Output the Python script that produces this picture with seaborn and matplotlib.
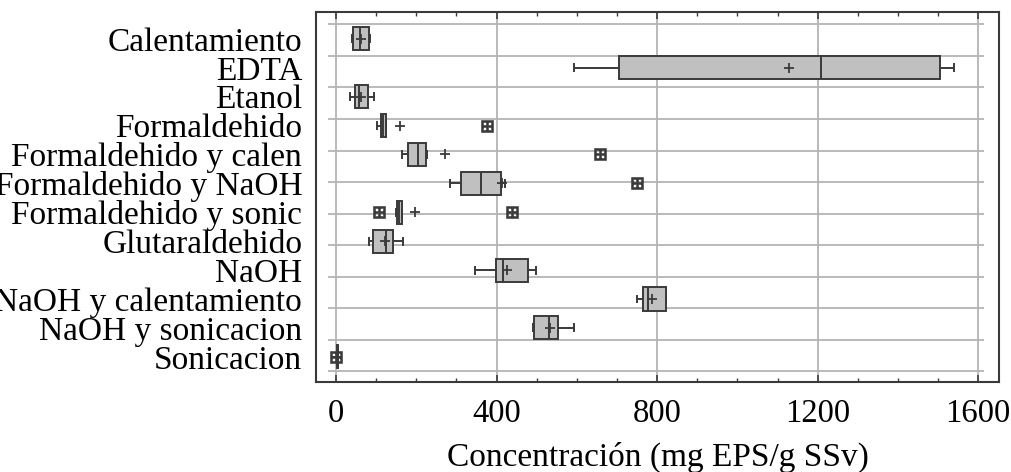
import numpy as np
import pandas as pd
import matplotlib
matplotlib.use('Agg')
import matplotlib.pyplot as plt
import seaborn as sns
from matplotlib.ticker import MultipleLocator

plt.rcParams['font.family'] = ['Liberation Serif', 'DejaVu Serif']
plt.rcParams['mathtext.fontset'] = 'dejavusans'

# orden de los tratamientos en el eje
tratamientos = ['Calentamiento', 'EDTA', 'Etanol', 'Formaldehido',
                'Formaldehido y calen', 'Formaldehido y NaOH',
                'Formaldehido y sonic', 'Glutaraldehido', 'NaOH',
                'NaOH y calentamiento', 'NaOH y sonicacion', 'Sonicacion']

calentamiento = [40, 41, 59, 82, 85]
edta = [594, 700, 705, 1000, 1208, 1380, 1504, 1522, 1539]
etanol = [35, 46, 56, 80, 95]
formaldehido = [101, 110, 113, 123, 124, 377]
formaldehido_calen = [164, 175, 195, 215, 226, 657]
formaldehido_naoh = [284, 300, 340, 380, 420, 750]
formaldehido_sonic = [106, 150, 157, 158, 165, 438]
glutaraldehido = [81, 91, 124, 142, 167]
naoh = [346, 398, 416, 478, 497]
naoh_calen = [751, 765, 776, 822, 823]
naoh_sonic = [491, 492, 531, 552, 593]
sonicacion = [0.5, 3, 3.5, 4, 4.5, 5]

valores = [calentamiento, edta, etanol, formaldehido, formaldehido_calen,
           formaldehido_naoh, formaldehido_sonic, glutaraldehido, naoh,
           naoh_calen, naoh_sonic, sonicacion]

df = pd.DataFrame({
    'tratamiento': np.repeat(tratamientos, [len(v) for v in valores]),
    'conc': np.concatenate(valores),
})

fig = plt.figure(figsize=(10.12, 4.72), dpi=100)
ax = fig.add_axes([0.3123, 0.1907, 0.6749, 0.7839])

edge = '#3a3a3a'
ax.hlines(np.linspace(-0.5, 11.5, 12), -20, 1614, color='#b4b4b4', lw=1.3, zorder=0)

sns.boxplot(data=df, x='conc', y='tratamiento', order=tratamientos, orient='h',
            width=0.8, color='#c0c0c0', linecolor=edge, linewidth=1.4,
            showmeans=True, capwidths=0.24,
            meanprops=dict(marker='+', markeredgecolor=edge, markersize=7,
                           markeredgewidth=1.3),
            flierprops=dict(marker=r'$\boxplus$', markersize=8,
                            markeredgecolor=edge, markerfacecolor=edge,
                            markeredgewidth=0.4),
            ax=ax)

ax.set_xlim(-50, 1652)
ax.set_ylim(11.87, -0.93)
ax.set_axisbelow(True)
ax.xaxis.set_major_locator(MultipleLocator(400))
ax.xaxis.set_minor_locator(MultipleLocator(100))
ax.xaxis.grid(True, color='#b4b4b4', lw=1.3)
ax.yaxis.grid(False)

ax.tick_params(axis='x', which='both', direction='in', top=True, bottom=True,
               color=edge, labelsize=23.5, pad=12)
ax.tick_params(axis='x', which='major', length=5, width=1.2)
ax.tick_params(axis='x', which='minor', length=3, width=1)
ax.tick_params(axis='y', length=0, labelsize=24, pad=10)

for s in ax.spines.values():
    s.set_color(edge)
    s.set_linewidth(1.5)

ax.set_ylabel('')
ax.set_xlabel('Concentración (mg EPS/g SSv)', fontsize=24, labelpad=9)

fig.savefig('out.png', dpi=100)
